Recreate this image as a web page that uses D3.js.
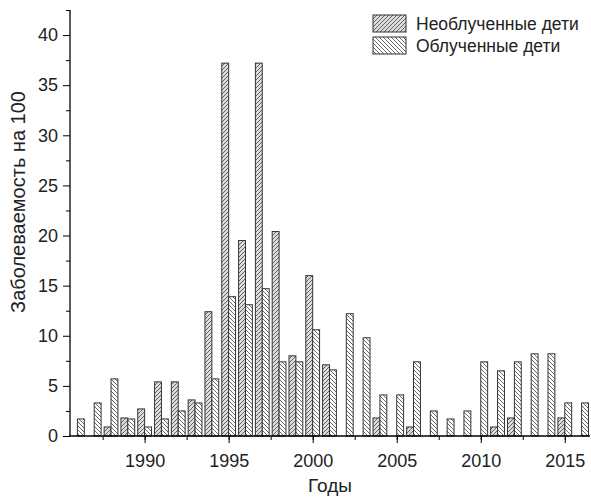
<!DOCTYPE html>
<html>
<head>
<meta charset="utf-8">
<script src="https://d3js.org/d3.v7.min.js"></script>
<style>
  body { margin: 0; background: #fff; }
  text { font-family: "Liberation Sans", Arial, sans-serif; fill: #222; }
</style>
</head>
<body>
<svg id="chart" width="591" height="497"></svg>
<script>

// data
const years = d3.range(1986, 2017);
const nonIrradiated = [0, 0, 0.9, 1.8, 2.7, 5.4, 5.4, 3.6, 12.4, 37.2, 19.5, 37.2, 20.4, 8.0, 16.0, 7.1,
                       0, 0, 1.8, 0, 0.9, 0, 0, 0, 0, 0.9, 1.8, 0, 0, 1.8, 0];
const irradiated = [1.7, 3.3, 5.7, 1.7, 0.9, 1.7, 2.5, 3.3, 5.7, 13.9, 13.1, 14.7, 7.4, 7.4, 10.6, 6.6,
                    12.2, 9.8, 4.1, 4.1, 7.4, 2.5, 1.7, 2.5, 7.4, 6.5, 7.4, 8.2, 8.2, 3.3, 3.3];
const seriesNames = ["Необлученные дети", "Облученные дети"];
const xTicks = [1990, 1995, 2000, 2005, 2010, 2015];
const yTicks = [0, 5, 10, 15, 20, 25, 30, 35, 40];

const svg = d3.select("#chart");

// hatch patterns
const defs = svg.append("defs");
function hatch(id, fill, dir) {
    const p = defs.append("pattern").attr("id", id)
                  .attr("patternUnits", "userSpaceOnUse")
                  .attr("width", 4).attr("height", 4);
    p.append("rect").attr("width", 4).attr("height", 4).attr("fill", fill);
    const d = dir > 0 ? "M-1,1 l2,-2 M0,4 l4,-4 M3,5 l2,-2" : "M-1,3 l2,2 M0,0 l4,4 M3,-1 l2,2";
    p.append("path").attr("d", d).attr("stroke", "#444").attr("stroke-width", 0.8);
}
hatch("hatchA", "#dcdcdc", 1);
hatch("hatchB", "#ffffff", -1);

const x = d3.scaleLinear().domain([1985.5, 2016.5]).range([69, 590]);
const y = d3.scaleLinear().domain([0, 42.5]).range([436, 10]);
const bw = 0.41;

const rows = years.map((yr, i) => ({year: yr, a: nonIrradiated[i], b: irradiated[i]}));

// bars
const g = svg.append("g");
g.selectAll("rect.a").data(rows.filter(d => d.a > 0)).join("rect")
  .attr("class", "a")
  .attr("x", d => x(d.year - bw)).attr("width", d => x(d.year) - x(d.year - bw))
  .attr("y", d => y(d.a)).attr("height", d => y(0) - y(d.a))
  .attr("fill", "url(#hatchA)").attr("stroke", "#333").attr("stroke-width", 1);

g.selectAll("rect.b").data(rows.filter(d => d.b > 0)).join("rect")
  .attr("class", "b")
  .attr("x", d => x(d.year)).attr("width", d => x(d.year + bw) - x(d.year))
  .attr("y", d => y(d.b)).attr("height", d => y(0) - y(d.b))
  .attr("fill", "url(#hatchB)").attr("stroke", "#333").attr("stroke-width", 1);

// x axis
const xAxis = svg.append("g").attr("transform", "translate(0,436)");
xAxis.call(d3.axisBottom(x).tickValues(d3.range(1987.5, 2016.5, 2.5)).tickSize(4).tickFormat(""))
     .call(a => a.select(".domain").remove());
xAxis.append("g").call(d3.axisBottom(x).tickValues(xTicks).tickSize(7).tickPadding(11).tickFormat(d3.format("d")))
     .call(a => a.select(".domain").remove())
     .selectAll("text").attr("font-size", 18).attr("font-family", "Liberation Sans, Arial, sans-serif").attr("fill", "#222");
xAxis.append("line").attr("x1", x.range()[0]).attr("x2", x.range()[1]).attr("stroke", "#000").attr("stroke-width", 1.3);

// y axis
const yAxis = svg.append("g").attr("transform", "translate(70,0)");
yAxis.call(d3.axisLeft(y).tickValues(d3.range(2.5, 43, 5)).tickSize(4).tickFormat(""))
     .call(a => a.select(".domain").remove());
yAxis.append("g").call(d3.axisLeft(y).tickValues(yTicks).tickSize(7).tickPadding(5))
     .call(a => a.select(".domain").remove())
     .selectAll("text").attr("font-size", 18).attr("font-family", "Liberation Sans, Arial, sans-serif").attr("fill", "#222");
yAxis.append("line").attr("y1", y(0)).attr("y2", y(42.5)).attr("stroke", "#000").attr("stroke-width", 1.3);

// titles
svg.append("text").attr("x", 330).attr("y", 492).attr("text-anchor", "middle")
   .attr("font-size", 19).text("Годы");
svg.append("text").attr("transform", "translate(25,202) rotate(-90)").attr("text-anchor", "middle")
   .attr("font-size", 20).text("Заболеваемость на 100");

// legend
const lg = svg.append("g").attr("transform", "translate(373,15)");
seriesNames.forEach((name, i) => {
    lg.append("rect").attr("x", 0).attr("y", i * 22).attr("width", 33).attr("height", 17)
      .attr("fill", i === 0 ? "url(#hatchA)" : "url(#hatchB)").attr("stroke", "#333");
    lg.append("text").attr("x", 43).attr("y", i * 22 + 15).attr("font-size", 17.5).text(name);
});

</script>
</body>
</html>
